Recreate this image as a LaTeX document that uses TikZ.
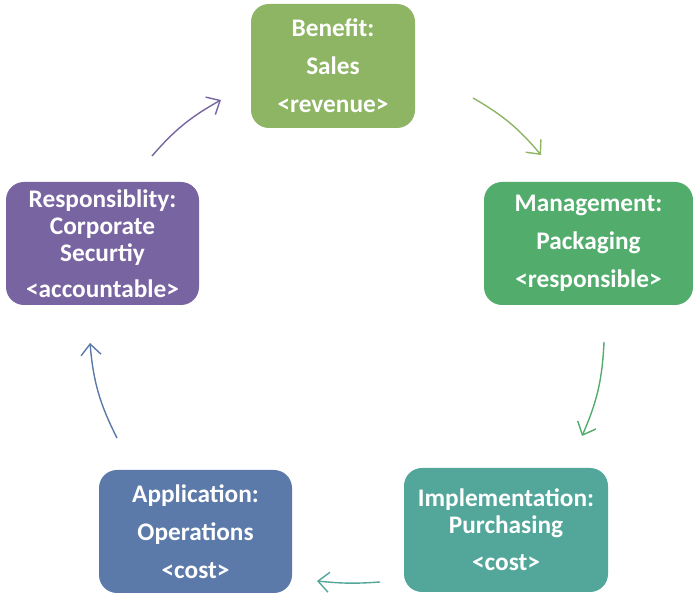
\documentclass[tikz,border=0pt]{standalone}
\usepackage{fontspec}
\setmainfont{Carlito}
\usetikzlibrary{arrows.meta}
\definecolor{cBen}{HTML}{8DB564}
\definecolor{cMan}{HTML}{52AD6D}
\definecolor{cImp}{HTML}{52A69A}
\definecolor{cApp}{HTML}{5B79A9}
\definecolor{cRes}{HTML}{7864A0}
\begin{document}
\begin{tikzpicture}[x=1pt,y=1pt,
  box/.style={rounded corners=18pt, inner sep=0pt, align=center, text=white,
    font=\fontsize{25.3}{27}\selectfont\bfseries},
  cyc/.style={line width=1.4pt, -{Straight Barb[length=11pt,width=20pt,line width=1.4pt]}}]
\useasboundingbox (0,0) rectangle (693,593);
\node[box, fill=cBen, minimum width=164pt, minimum height=124pt] (ben) at (333,527)
  {Benefit:\\[11pt]Sales\\[11pt]<revenue>};
\node[box, fill=cMan, minimum width=209pt, minimum height=123pt] (man) at (588.5,349.5)
  {Management:\\[11pt]Packaging\\[11pt]<responsible>};
\node[box, fill=cImp, minimum width=204pt, minimum height=124pt] (imp) at (506,63)
  {Implementation:\\Purchasing\\[10pt]<cost>};
\node[box, fill=cApp, minimum width=193pt, minimum height=123pt] (app) at (195.5,61.5)
  {Application:\\[11pt]Operations\\[11pt]<cost>};
\node[box, fill=cRes, minimum width=193pt, minimum height=123pt] (res) at (102.5,349.5)
  {Responsiblity:\\Corporate\\Securtiy\\[9pt]<accountable>};
\coordinate (a1s) at (473,495); \coordinate (a1e) at (541,438);
\coordinate (a2s) at (604,251); \coordinate (a2e) at (582,157);
\coordinate (a3s) at (380,11);  \coordinate (a3e) at (317,12);
\coordinate (a4s) at (117,155); \coordinate (a4e) at (90,250);
\coordinate (a5s) at (152,437); \coordinate (a5e) at (221,493);
\draw[cyc, cBen] (a1s) to[bend left=10] (a1e);
\draw[cyc, cMan] (a2s) to[bend left=10.5] (a2e);
\draw[cyc, cImp] (a3s) to[bend left=5] (a3e);
\draw[cyc, cApp] (a4s) to[bend left=11] (a4e);
\draw[cyc, cRes] (a5s) to[bend left=10] (a5e);
\end{tikzpicture}
\end{document}
